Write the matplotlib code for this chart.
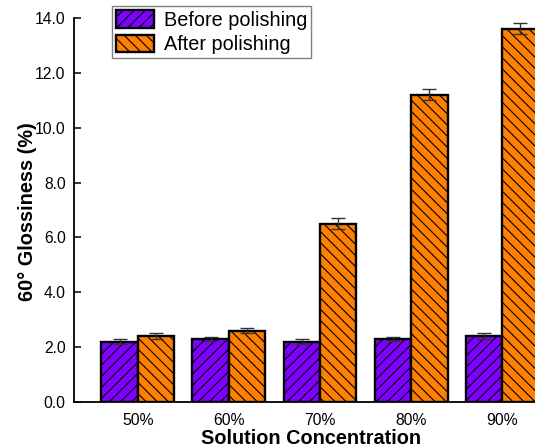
import matplotlib
matplotlib.use("Agg")
import matplotlib.pyplot as plt
import numpy as np

categories = ["50%", "60%", "70%", "80%", "90%"]
before = [2.2, 2.3, 2.2, 2.3, 2.4]
before_err = [0.1, 0.08, 0.08, 0.08, 0.1]
after = [2.4, 2.6, 6.5, 11.2, 13.6]
after_err = [0.1, 0.1, 0.2, 0.2, 0.2]
yticks = [0, 2, 4, 6, 8, 10, 12, 14]

plt.rcParams['font.family'] = ['Liberation Sans', 'DejaVu Sans']
plt.rcParams['hatch.linewidth'] = 0.8
plt.rcParams['hatch.color'] = 'black'

W, H = 535, 448
fig = plt.figure(figsize=(W / 100, H / 100), dpi=100)
ax = fig.add_axes([74 / W, 46 / H, 492 / W, 384 / H])

x = np.arange(len(categories))
bw = 0.4
ekw = dict(ecolor='#333333', elinewidth=1.0, capsize=4.7, capthick=1.0, zorder=4)
ax.bar(x - bw / 2, before, bw, color='#7F00FF', edgecolor='black', linewidth=1.7,
       hatch='///', label='Before polishing', zorder=2)
ax.bar(x + bw / 2, after, bw, color='#FF8000', edgecolor='black', linewidth=1.7,
       hatch='\\\\\\', label='After polishing', zorder=2)
ax.errorbar(x - bw / 2, before, yerr=before_err, fmt='none', **ekw)
ax.errorbar(x + bw / 2, after, yerr=after_err, fmt='none', **ekw)

ax.set_xlim(-0.7, 4.7)
ax.set_ylim(0, 14)
ax.set_xticks(x)
ax.set_xticklabels(categories)
ax.set_yticks(yticks)
ax.set_yticklabels([f"{v:.1f}" for v in yticks])
ax.tick_params(axis='y', direction='in', length=5, width=1.1, labelsize=11.3, pad=6)
ax.tick_params(axis='x', length=0, labelsize=11.3, pad=8)
for s in ['top', 'right']:
    ax.spines[s].set_visible(False)
for s in ['left', 'bottom']:
    ax.spines[s].set_linewidth(1.3)

ax.set_xlabel('Solution Concentration', fontsize=14.3, fontweight='bold')
ax.set_ylabel('60° Glossiness (%)', fontsize=14.3, fontweight='bold')
ax.xaxis.set_label_coords(0.482, -0.094)
ax.xaxis.label.set_va('center')
ax.yaxis.set_label_coords(-0.094, 0.497)
ax.yaxis.label.set_va('center')

leg = ax.legend(loc='upper left', bbox_to_anchor=(112 / W, 1 - 6 / H),
                bbox_transform=fig.transFigure, borderaxespad=0,
                fontsize=14.3, frameon=True, fancybox=False, framealpha=1,
                edgecolor='#808080', handlelength=1.9, handleheight=1.0,
                handletextpad=0.5, borderpad=0.2, labelspacing=0.25)
leg.get_frame().set_linewidth(1.0)

fig.savefig('out.png', dpi=100)
